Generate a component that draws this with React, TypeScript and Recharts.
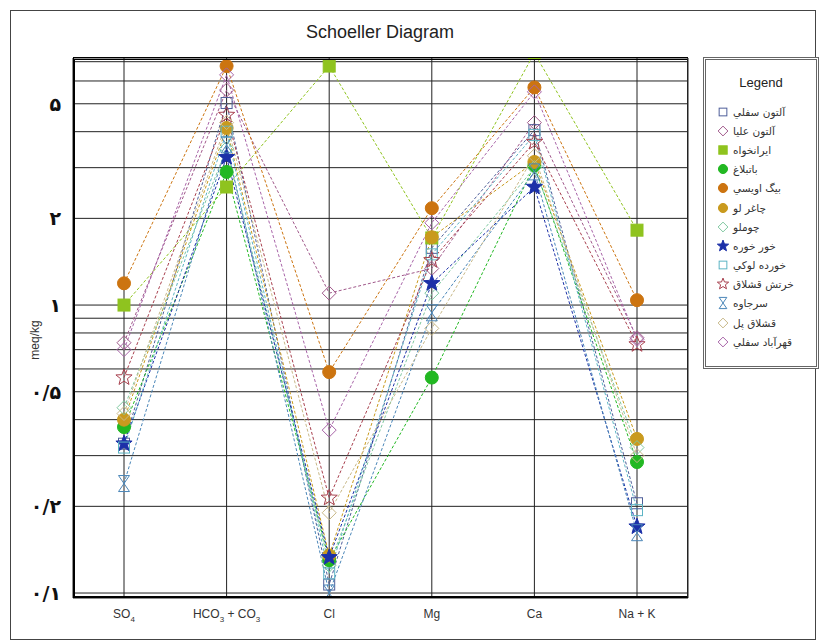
import React from 'react';
import { LineChart, Line, XAxis, YAxis, CartesianGrid } from 'recharts';

// ions along the x axis
const categories = ['SO4', 'HCO3 + CO3', 'Cl', 'Mg', 'Ca', 'Na + K'];

// meq/kg per sample, same order as categories
const altunSofla = [0.33, 5.03, 0.107, 1.58, 4.05, 0.205];
const altunOlia = [0.74, 5.58, 1.1, 1.34, 4.3, 0.77];
const iranKhah = [1.0, 2.57, 6.76, 1.71, 7.5, 1.82];
const batBolagh = [0.377, 2.9, 0.13, 0.56, 3.05, 0.285];
const bigOveisi = [1.19, 6.76, 0.585, 2.17, 5.7, 1.04];
const chaghorLu = [0.4, 4.12, 0.135, 1.72, 3.14, 0.343];
const chomlu = [0.44, 3.5, 0.125, 1.1, 3.0, 0.32];
const khorKhoreh = [0.33, 3.26, 0.133, 1.19, 2.57, 0.17];
const khordehLoki = [0.32, 4.0, 0.117, 1.5, 3.9, 0.194];
const khartashGheshlagh = [0.56, 4.57, 0.214, 1.43, 3.68, 0.73];
const sarjaveh = [0.24, 3.6, 0.1, 0.94, 2.9, 0.162];
const gheshlaghPol = [0.42, 4.3, 0.19, 0.83, 3.3, 0.3];
const ghahrabadSofla = [0.7, 6.3, 0.368, 1.93, 5.5, 0.76];

const yTicks = [0.1, 0.2, 0.3, 0.4, 0.5, 0.6, 0.7, 0.8, 0.9, 1, 2, 3, 4, 5, 6, 7];
const yLabels: Record<string, string> = {
  '0.1': '۰/۱',
  '0.2': '۰/۲',
  '0.5': '۰/۵',
  '1': '۱',
  '2': '۲',
  '5': '۵',
};

type Shape = 'square' | 'diamond' | 'circle' | 'star' | 'hourglass';

const series: { name: string; values: number[]; color: string; shape: Shape; filled: boolean }[] = [
  { name: 'آلتون سفلي', values: altunSofla, color: '#4f5f9a', shape: 'square', filled: false },
  { name: 'آلتون عليا', values: altunOlia, color: '#a0588a', shape: 'diamond', filled: false },
  { name: 'ايرانخواه', values: iranKhah, color: '#8fc31f', shape: 'square', filled: true },
  { name: 'باتبلاغ', values: batBolagh, color: '#22b822', shape: 'circle', filled: true },
  { name: 'بيگ اويسي', values: bigOveisi, color: '#cc7410', shape: 'circle', filled: true },
  { name: 'چاغر لو', values: chaghorLu, color: '#c99a1e', shape: 'circle', filled: true },
  { name: 'چوملو', values: chomlu, color: '#7fc8a0', shape: 'diamond', filled: false },
  { name: 'خور خوره', values: khorKhoreh, color: '#1c30a8', shape: 'star', filled: true },
  { name: 'خورده لوکي', values: khordehLoki, color: '#5cb4c4', shape: 'square', filled: false },
  { name: 'خرتش قشلاق', values: khartashGheshlagh, color: '#a8404e', shape: 'star', filled: false },
  { name: 'سرجاوه', values: sarjaveh, color: '#4a86b8', shape: 'hourglass', filled: false },
  { name: 'قشلاق پل', values: gheshlaghPol, color: '#c8b888', shape: 'diamond', filled: false },
  { name: 'قهرآباد سفلي', values: ghahrabadSofla, color: '#a864a8', shape: 'diamond', filled: false },
];

const data = categories.map((cat, i) => {
  const row: Record<string, number | string> = { cat };
  series.forEach((s, j) => {
    row['s' + j] = s.values[i];
  });
  return row;
});

const tickParts: Record<string, [string, boolean][]> = {
  SO4: [['SO', false], ['4', true]],
  'HCO3 + CO3': [['HCO', false], ['3', true], [' + CO', false], ['3', true]],
  Cl: [['Cl', false]],
  Mg: [['Mg', false]],
  Ca: [['Ca', false]],
  'Na + K': [['Na + K', false]],
};

function Marker({ cx, cy, shape, color, filled, k = 1 }: any) {
  const fill = filled ? color : 'none';
  if (shape === 'circle') {
    return <circle cx={cx} cy={cy} r={6.5 * k} fill={fill} stroke={color} strokeWidth={1} />;
  }
  if (shape === 'square') {
    const h = (filled ? 6 : 5.5) * k;
    return <rect x={cx - h} y={cy - h} width={2 * h} height={2 * h} fill={fill} stroke={color} strokeWidth={1} />;
  }
  if (shape === 'diamond') {
    const h = 7 * k;
    return (
      <polygon
        points={`${cx},${cy - h} ${cx + h},${cy} ${cx},${cy + h} ${cx - h},${cy}`}
        fill={fill}
        stroke={color}
        strokeWidth={1}
      />
    );
  }
  if (shape === 'star') {
    const pts: string[] = [];
    for (let i = 0; i < 10; i++) {
      const r = (i % 2 === 0 ? 8.5 : 3.6) * k;
      const a = -Math.PI / 2 + (i * Math.PI) / 5;
      pts.push(`${cx + r * Math.cos(a)},${cy + r * Math.sin(a)}`);
    }
    return <polygon points={pts.join(' ')} fill={fill} stroke={color} strokeWidth={1} />;
  }
  const w = 5.5 * k;
  const h = 8 * k;
  return (
    <path
      d={`M${cx - w},${cy - h} H${cx + w} L${cx - w},${cy + h} H${cx + w} Z`}
      fill="none"
      stroke={color}
      strokeWidth={1}
    />
  );
}

function XTick({ x, y, payload }: any) {
  const parts = tickParts[payload.value] || [[payload.value, false]];
  let shifted = false;
  return (
    <text x={x} y={y + 12} textAnchor="middle" fontFamily="'Liberation Sans', Arial" fontSize={12} fill="#333">
      {parts.map(([t, sub], i) => {
        let dy = 0;
        if (sub && !shifted) {
          dy = 4;
          shifted = true;
        } else if (!sub && shifted) {
          dy = -4;
          shifted = false;
        }
        return (
          <tspan key={i} dy={dy} fontSize={sub ? 8 : 12}>
            {t}
          </tspan>
        );
      })}
    </text>
  );
}

function YTick({ x, y, payload }: any) {
  const label = yLabels[String(Number(payload.value.toPrecision(6)))];
  if (!label) return <g />;
  return (
    <text
      x={x - 4}
      y={y + 7}
      textAnchor="end"
      fontFamily="'DejaVu Sans'"
      fontWeight="bold"
      fontSize={19}
      fill="#111"
      direction="ltr"
    >
      {label}
    </text>
  );
}

const App: React.FC = () => (
  <div style={{ position: 'absolute', left: 0, top: 0, width: 822, height: 644, background: '#fff' }}>
    <div
      style={{
        position: 'absolute',
        left: 10,
        top: 10,
        width: 804,
        height: 628,
        border: '1px solid #444',
      }}
    />
    <div
      style={{
        position: 'absolute',
        left: 0,
        width: 760,
        top: 22,
        textAlign: 'center',
        fontFamily: "'Liberation Sans', Arial",
        fontSize: 18,
        color: '#222',
      }}
    >
      Schoeller Diagram
    </div>
    <svg style={{ position: 'absolute', left: 0, top: 0 }} width={60} height={644}>
      <text
        transform="translate(39,340) rotate(-90)"
        textAnchor="middle"
        fontFamily="'Liberation Sans', Arial"
        fontSize={12}
        fill="#333"
      >
        meq/kg
      </text>
    </svg>
    <div style={{ position: 'absolute', left: 0, top: 0 }}>
      <LineChart width={822} height={644} data={data} margin={{ top: 58, right: 134, bottom: 16, left: 13 }}>
        <CartesianGrid stroke="#222" strokeWidth={1} />
        <XAxis
          dataKey="cat"
          padding={{ left: 51, right: 51 }}
          tick={<XTick />}
          tickLine={false}
          axisLine={false}
          height={30}
          interval={0}
        />
        <YAxis
          type="number"
          scale="log"
          domain={[0.0961, 7.21]}
          allowDataOverflow
          ticks={yTicks}
          interval={0}
          tick={<YTick />}
          tickLine={false}
          axisLine={false}
          width={60}
        />
        {series.map((s, j) => (
          <Line
            key={s.name}
            dataKey={'s' + j}
            name={s.name}
            type="linear"
            stroke={s.color}
            strokeWidth={1}
            strokeDasharray="3 2"
            isAnimationActive={false}
            dot={(p: any) => (
              <Marker key={`${j}-${p.index}`} cx={p.cx} cy={p.cy} shape={s.shape} color={s.color} filled={s.filled} />
            )}
            activeDot={false}
          />
        ))}
      </LineChart>
    </div>
    <div
      style={{
        position: 'absolute',
        left: 73,
        top: 57,
        width: 615,
        height: 541,
        borderTop: '3px double #000',
        borderLeft: '2px solid #000',
        borderBottom: '2px solid #000',
        borderRight: '1px solid #222',
        boxSizing: 'border-box',
        pointerEvents: 'none',
      }}
    />
    <div
      style={{
        position: 'absolute',
        left: 703,
        top: 57,
        width: 116,
        height: 312,
        border: '3px double #666',
        boxSizing: 'border-box',
        background: '#fff',
      }}
    >
      <div
        style={{
          textAlign: 'center',
          marginTop: 15,
          fontFamily: "'Liberation Sans', Arial",
          fontSize: 13,
          color: '#222',
        }}
      >
        Legend
      </div>
      <div style={{ marginTop: 12, marginLeft: 11 }}>
        {series.map((s) => (
          <div key={s.name} style={{ display: 'flex', alignItems: 'center', height: 19.2 }}>
            <svg width={12} height={14} style={{ flex: 'none' }}>
              <Marker cx={6} cy={7} shape={s.shape} color={s.color} filled={s.filled} k={0.7} />
            </svg>
            <span
              style={{
                marginLeft: 4,
                fontFamily: "'DejaVu Sans'",
                fontSize: 10.5,
                color: '#333',
                direction: 'rtl',
                whiteSpace: 'nowrap',
              }}
            >
              {s.name}
            </span>
          </div>
        ))}
      </div>
    </div>
  </div>
);

export default App;
